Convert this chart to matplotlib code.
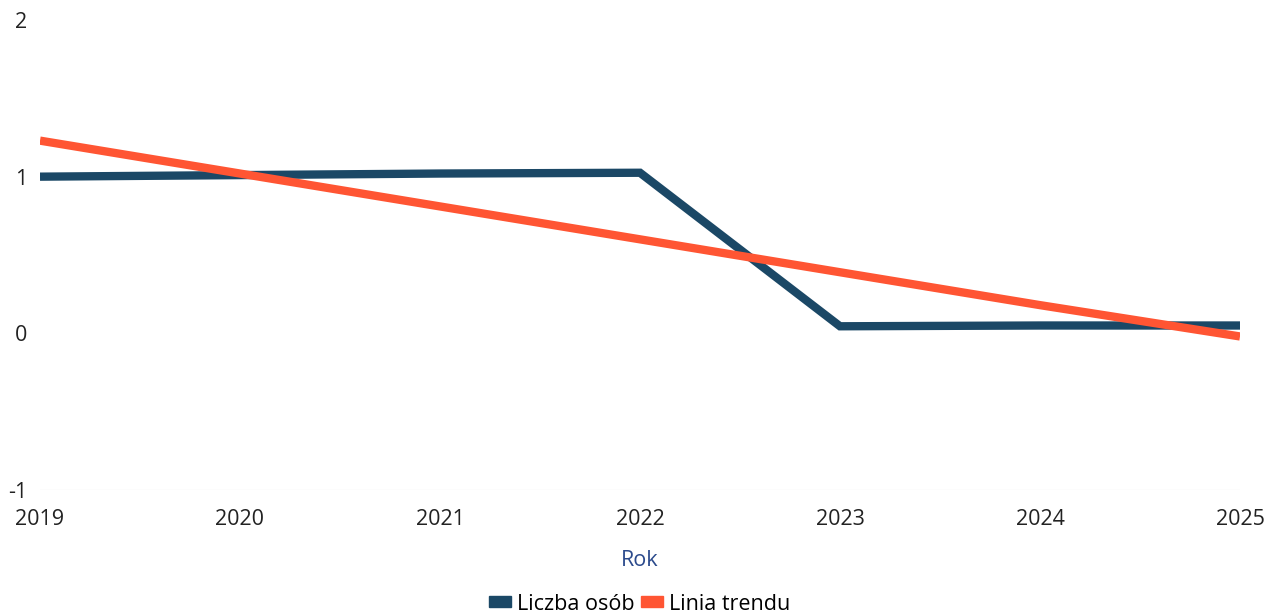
import matplotlib
matplotlib.use("Agg")
import matplotlib.pyplot as plt
from matplotlib.patches import Patch

years = ["2019", "2020", "2021", "2022", "2023", "2024", "2025"]
liczba_osob = [1.0, 1.01, 1.02, 1.025, 0.045, 0.05, 0.05]
linia_trendu = [1.23, 1.02, 0.81, 0.60, 0.39, 0.18, -0.02]
y_ticks = [-1, 0, 1, 2]

plt.rcParams['font.family'] = ['Open Sans', 'DejaVu Sans']

W, H = 1267, 616
fig = plt.figure(figsize=(W / 100, H / 100), dpi=100)
ax = fig.add_axes([40 / W, 1 - 490 / H, 1200 / W, 470 / H])

x = list(range(len(years)))
navy = "#1b4866"
orange = "#ff5533"
ax.plot(x, liczba_osob, color=navy, lw=6, solid_joinstyle="miter", solid_capstyle="butt", zorder=3)
ax.plot(x, linia_trendu, color=orange, lw=6, solid_capstyle="butt", zorder=4)

ax.set_xlim(0, 6)
ax.set_ylim(-1, 2)
ax.set_yticks(y_ticks)
ax.set_yticklabels([str(v) for v in y_ticks])
ax.set_xticks(x)
ax.set_xticklabels(years)
ax.tick_params(axis="both", length=0, labelsize=15.5, colors="#222222")
ax.tick_params(axis="y", pad=9)
ax.tick_params(axis="x", pad=14)
for s in ax.spines.values():
    s.set_visible(False)
ax.axhline(-1, color="#f0f0f0", lw=1, zorder=1)

ax.set_xlabel("Rok", fontsize=15.5, color="#2b4a8c", labelpad=14)

handles = [Patch(facecolor=navy, edgecolor=navy), Patch(facecolor=orange, edgecolor=orange)]
fig.legend(handles, ["Liczba osób", "Linia trendu"], loc="center", bbox_to_anchor=(640 / W, 1 - 604 / H),
           ncol=2, frameon=False, fontsize=15.5, handlelength=1.0, handleheight=0.4,
           handletextpad=0.3, columnspacing=0.3, borderpad=0)

fig.savefig("out.png", dpi=100)
